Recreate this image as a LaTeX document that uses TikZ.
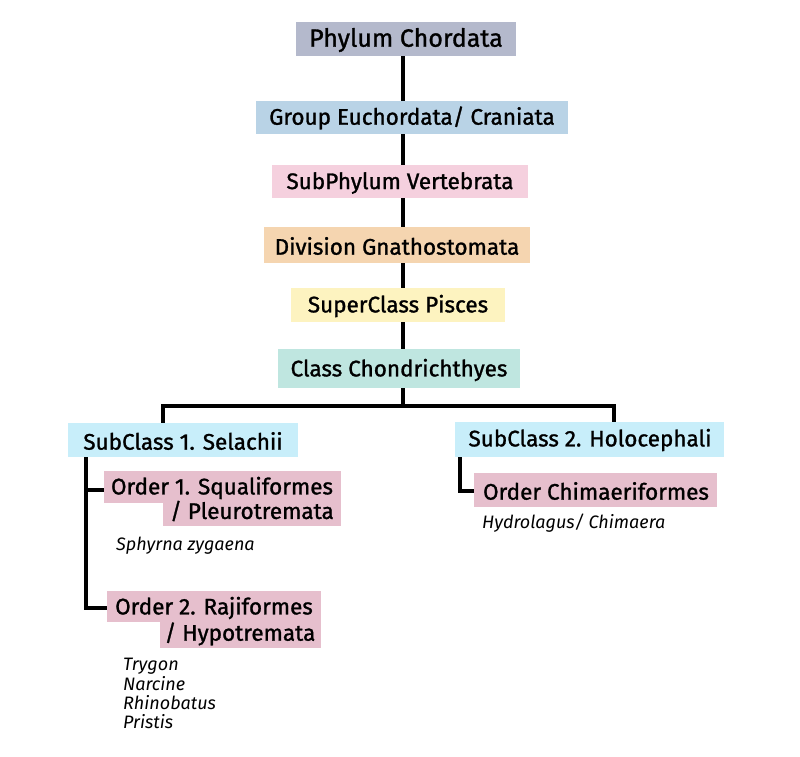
\documentclass[tikz,border=0pt]{standalone}
\usepackage{fontspec}
\setmainfont{Fira Sans}[AutoFakeBold=1.2]
\begin{document}
\begin{tikzpicture}[x=1pt,y=-1pt,
  box/.style={draw=none,inner sep=0pt,font=\bfseries\fontsize{22.5}{24}\selectfont},
  ln/.style={line width=3.5pt},
  sp/.style={anchor=base west,inner sep=0pt,font=\itshape\fontsize{18}{20}\selectfont}]
\definecolor{cA}{HTML}{B4B9CC}\definecolor{cB}{HTML}{B9D3E6}\definecolor{cC}{HTML}{F5D0DE}
\definecolor{cD}{HTML}{F5D5B0}\definecolor{cE}{HTML}{FDF3C0}\definecolor{cF}{HTML}{BFE6E0}
\definecolor{cG}{HTML}{C8EEFA}\definecolor{cH}{HTML}{E6BFCD}
\useasboundingbox[fill=white] (0,0) rectangle (800,756);
% main trunk
\coordinate (t0) at (403,56); \coordinate (t1) at (403,406);
\coordinate (l) at (163,406); \coordinate (r) at (614,406);
\coordinate (l1) at (163,424); \coordinate (r1) at (614,424);
\draw[ln] (t0)--(t1); \draw[ln] (l1)--(l)--(r)--(r1);
\fill[cA] (296,22) rectangle (516,56); \node[box,font=\bfseries\fontsize{25}{27}\selectfont] (a) at (406,40) {Phylum Chordata};
\fill[cB] (256,101) rectangle (568,134); \node[box] (b) at (412,118) {Group Euchordata/ Craniata};
\fill[cC] (272,165) rectangle (528,198); \node[box] (c) at (400,183) {SubPhylum Vertebrata};
\fill[cD] (264,227) rectangle (530,263); \node[box] (d) at (397,246) {Division Gnathostomata};
\fill[cE] (291,288) rectangle (505,322); \node[box] (e) at (398,306) {SuperClass Pisces};
\fill[cF] (278,349) rectangle (520,388); \node[box] (f) at (399,370) {Class Chondrichthyes};
% subclasses
\fill[cG] (68,423) rectangle (298,457); \node[box] (g) at (183,441) {SubClass 1. Selachii};
\fill[cG] (455,422) rectangle (724,457); \node[box] (h) at (590,440) {SubClass 2. Holocephali};
% selachii branch
\coordinate (s0) at (86,457); \coordinate (s1) at (86,490); \coordinate (s2) at (86,608);
\coordinate (s1e) at (106,490); \coordinate (s2e) at (108,608);
\draw[ln] (s0)--(s2)--(s2e); \draw[ln] (s1)--(s1e);
\fill[cH] (104,471) rectangle (341,503); \fill[cH] (163,503) rectangle (341,526);
\node[box] (o1) at (222,488) {Order 1. Squaliformes};
\node[box] (o1b) at (252,511) {/ Pleurotremata};
\node[sp] (s) at (116,550) {Sphyrna zygaena};
\fill[cH] (107,591) rectangle (321,622); \fill[cH] (160,622) rectangle (321,648);
\node[box] (o2) at (214,608) {Order 2. Rajiformes};
\node[box] (o2b) at (240,634) {/ Hypotremata};
\node[sp] (n1) at (123,670) {Trygon};
\node[sp] (n2) at (123,690) {Narcine};
\node[sp] (n3) at (123,709) {Rhinobatus};
\node[sp] (n4) at (123,728) {Pristis};
% holocephali branch
\coordinate (h0) at (460,457); \coordinate (h1) at (460,491); \coordinate (h2) at (476,491);
\draw[ln] (h0)--(h1)--(h2);
\fill[cH] (474,473) rectangle (717,507); \node[box] (o3) at (596,491) {Order Chimaeriformes};
\node[sp] (hy) at (482,528) {Hydrolagus/ Chimaera};
\end{tikzpicture}
\end{document}
